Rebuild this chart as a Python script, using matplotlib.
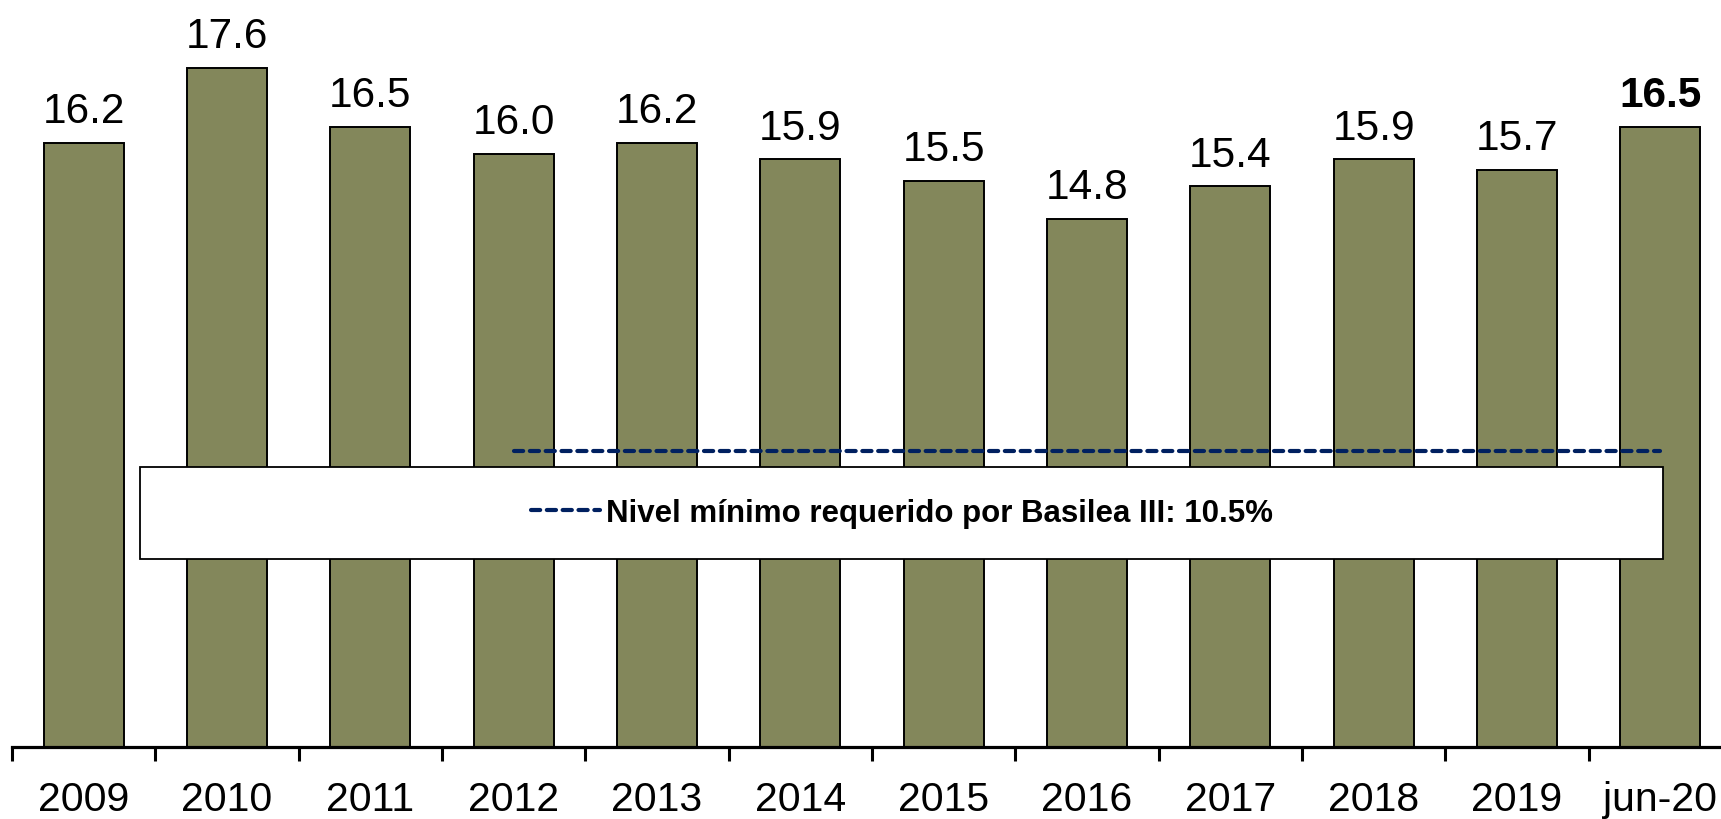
import numpy as np
import matplotlib
matplotlib.use("Agg")
import matplotlib.pyplot as plt
from matplotlib.patches import Rectangle
from matplotlib.ticker import FixedLocator, NullFormatter, FixedFormatter

plt.rcParams['font.family'] = ['Liberation Sans', 'DejaVu Sans']

# data
categories = ['2009', '2010', '2011', '2012', '2013', '2014',
              '2015', '2016', '2017', '2018', '2019', 'jun-20']
ratios = [16.2, 17.6, 16.5, 16.0, 16.2, 15.9, 15.5, 14.8, 15.4, 15.9, 15.7, 16.5]
basilea_min = 10.5
basilea_start = '2012'
legend_label = 'Nivel mínimo requerido por Basilea III: 10.5%'

bar_color = '#83875B'
line_color = '#002060'

W, H = 1721, 820
fig = plt.figure(figsize=(W / 100, H / 100), dpi=100)
# axes run a little past the right edge, as in the original crop
ax = fig.add_axes([12 / W, (H - 748) / H, 1720 / W, 748 / H])

x = np.arange(len(categories))
ax.bar(x, ratios, width=0.56, color=bar_color, edgecolor='black',
       linewidth=1.4, zorder=2)

for i, v in enumerate(ratios):
    last = i == len(ratios) - 1
    ax.annotate(f'{v:.1f}', (x[i], v), xytext=(0, 15), textcoords='offset points',
                ha='center', va='baseline', fontsize=30.5,
                fontweight='bold' if last else 'normal')

start = categories.index(basilea_start)
ax.plot(x[start:], [basilea_min] * len(x[start:]), color=line_color, lw=3.0,
        ls=(0, (2.2, 1.6)), dash_capstyle='round', zorder=4, label=legend_label)

ax.set_xlim(-0.5, len(categories) - 0.5)
ax.set_ylim(5, 5 + 748 / 53.9)

# white legend box
ax.add_patch(Rectangle((0.0747, 0.251), 0.8853, 0.123, transform=ax.transAxes,
                       facecolor='white', edgecolor='black', lw=1.3, zorder=3))
leg = ax.legend(loc='center', bbox_to_anchor=(0.5174, 0.3125), frameon=False,
                prop={'weight': 'bold', 'size': 22.5}, handlelength=2.2,
                handletextpad=0.2, borderpad=0)
leg.set_zorder(5)

for s in ['left', 'right', 'top']:
    ax.spines[s].set_visible(False)
ax.spines['bottom'].set_linewidth(2.3)
ax.set_yticks([])

ax.xaxis.set_major_locator(FixedLocator(np.arange(-0.5, len(categories), 1.0)))
ax.xaxis.set_major_formatter(NullFormatter())
ax.xaxis.set_minor_locator(FixedLocator(x))
ax.xaxis.set_minor_formatter(FixedFormatter(categories))
ax.tick_params(axis='x', which='major', direction='out', length=10, width=2.2)
ax.tick_params(axis='x', which='minor', length=0, pad=24, labelsize=29.5)

fig.savefig('out.png', dpi=100)
